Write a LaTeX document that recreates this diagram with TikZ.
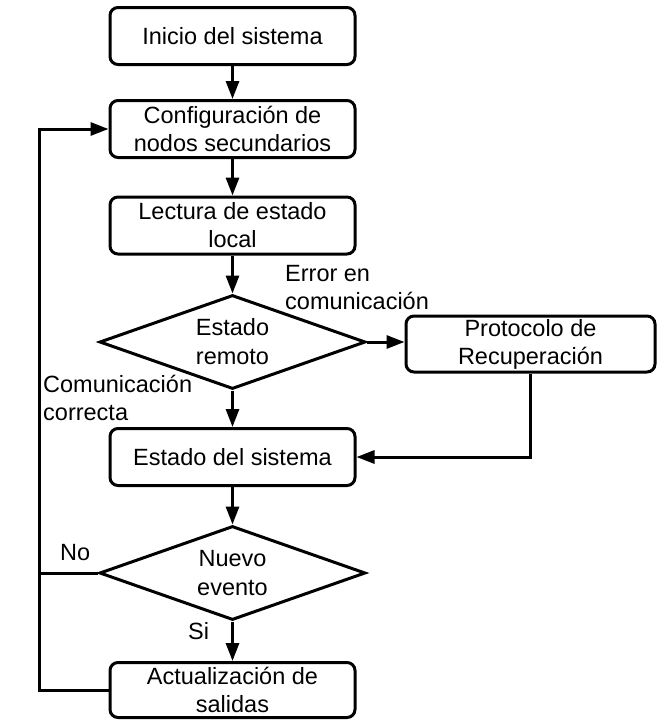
\documentclass[tikz,border=0pt]{standalone}
\usepackage{fontspec}
\setmainfont{Liberation Sans}
\usetikzlibrary{shapes.geometric,arrows.meta}
\begin{document}
\begin{tikzpicture}[x=1pt,y=-1pt,
  every node/.style={font=\fontsize{23.5}{28}\selectfont},
  box/.style={draw, line width=3pt, rounded corners=8pt, align=center,
    minimum width=245pt, minimum height=57pt, inner sep=2pt},
  dia/.style={draw, line width=3pt, diamond, inner sep=0pt, align=center,
    minimum width=266pt, minimum height=94pt, aspect=2.8,
    font=\fontsize{23.5}{29}\selectfont},
  conn/.style={line width=3pt},
  arr/.style={conn, -{Triangle[length=18pt,width=13pt]}},
  lbl/.style={align=left, inner sep=0pt, anchor=base west}
]
\useasboundingbox (0,0) rectangle (658,720);
\node[box] (b1) at (232.5,36) {Inicio del sistema};
\node[box] (b2) at (232.5,129) {Configuración de\\nodos secundarios};
\node[box] (b3) at (232.5,225.5) {Lectura de estado\\local};
\node[dia] (d1) at (232.5,342) {Estado\\remoto};
\node[box, minimum width=249pt, minimum height=56pt] (p) at (530.5,344) {Protocolo de\\Recuperación};
\node[box] (b4) at (232.5,457) {Estado del sistema};
\node[dia] (d2) at (232.5,573) {Nuevo\\evento};
\node[box, minimum height=55pt] (b5) at (232.5,690) {Actualización de\\salidas};
\coordinate (L) at (39,690);

\draw[arr] (b1) -- (b2);
\draw[arr] (b2) -- (b3);
\draw[arr] (b3) -- (d1);
\draw[arr] (d1.east) -- (d1.east -| p.west);
\draw[arr] (d1) -- (b4);
\draw[arr] (p.south) |- (b4.east);
\draw[arr] (b4) -- (d2);
\draw[arr] (d2) -- (b5);
\draw[arr] (b5.west) -- (L) |- (b2.west);
\draw[conn] (d2.west) -- (d2.west -| L);

\node[lbl] (e1) at (285,309) {Error en\\comunicación};
\node[lbl] (e2) at (43,420) {Comunicación\\correcta};
\node[lbl] (e3) at (60,560) {No};
\node[lbl] (e4) at (188,639) {Si};
\end{tikzpicture}
\end{document}
